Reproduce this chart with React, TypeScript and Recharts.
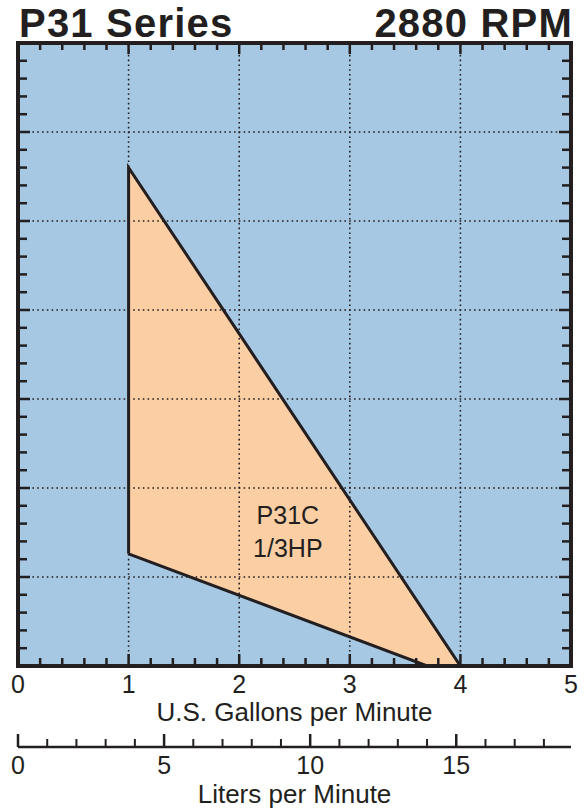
import React from 'react';
import {
  ComposedChart,
  XAxis,
  YAxis,
  Area,
  Line,
  ReferenceLine,
  ReferenceDot,
  CartesianGrid,
  Label,
} from 'recharts';

// ---------- data ----------
const gpmMinorTicks = [0, 0.2, 0.4, 0.6, 0.8, 1, 1.2, 1.4, 1.6, 1.8, 2, 2.2, 2.4, 2.6, 2.8, 3, 3.2, 3.4, 3.6, 3.8, 4, 4.2, 4.4, 4.6, 4.8, 5];
const gpmMajorTicks = [0, 1, 2, 3, 4, 5];
const gpmGridLines = [1, 2, 3, 4];
const headTicks = [0, 1, 2, 3, 4, 5, 6, 7, 8, 9, 10, 11, 12, 13, 14, 15, 16, 17, 18, 19, 20, 21, 22, 23, 24, 25, 26, 27, 28, 29, 30, 31, 32, 33, 34, 35];
const headMajorTicks = [0, 5, 10, 15, 20, 25, 30, 35];
const headGridLines = [5, 10, 15, 20, 25, 30];
const litersTicks = [0, 1, 2, 3, 4, 5, 6, 7, 8, 9, 10, 11, 12, 13, 14, 15, 16, 17, 18];
const litersMajorTicks = [0, 5, 10, 15];
const LITERS_PER_GALLON = 3.78541;
const GPM_MAX = 5;
const HEAD_MAX = 35;

// pump envelope (filled region): flow -> [low head, high head]
const envelopeFlow = [1, 3.7, 4];
const envelopeLow = [6.3, 0, 0];
const envelopeHigh = [28, 2.8, 0];

// outline of the envelope, in drawing order
const outlineFlow = [1, 1, 4, 3.7, 1];
const outlineHead = [6.3, 28, 0, 0, 6.3];

const modelName = 'P31C';
const modelPower = '1/3HP';
const modelLabelFlow = 2.44;
const modelLabelHead = 7.6;

const titleLeft = 'P31 Series';
const titleRight = '2880 RPM';
const xTitle = 'U.S. Gallons per Minute';
const litersTitle = 'Liters per Minute';

// ---------- derived tables ----------
const envelopeData = envelopeFlow.map((x, i) => ({
  x,
  lpm: x * LITERS_PER_GALLON,
  range: [envelopeLow[i], envelopeHigh[i]],
}));
const outlineData = outlineFlow.map((x, i) => ({ x, head: outlineHead[i] }));

// ---------- styles ----------
const INK = '#231f20';
const BLUE = '#a7c8e3';
const ORANGE = '#fbcea4';
const FONT = '"Liberation Sans", Arial, Helvetica, sans-serif';

const BottomTick = (props: any) => {
  const { x, y, payload } = props;
  const v = payload.value;
  const major = gpmMajorTicks.includes(v);
  return (
    <g>
      <line x1={x} x2={x} y1={y} y2={y - (major ? 12 : 8)} stroke={INK} strokeWidth={2.5} />
      {major && (
        <text x={x} y={y + 27} textAnchor="middle" fontSize={25} fill={INK} fontFamily={FONT}>
          {v}
        </text>
      )}
    </g>
  );
};

const TopTick = (props: any) => {
  const { x, y, payload } = props;
  const major = gpmMajorTicks.includes(payload.value);
  return <line x1={x} x2={x} y1={y} y2={y + (major ? 11 : 7)} stroke={INK} strokeWidth={2.5} />;
};

const LeftTick = (props: any) => {
  const { x, y, payload } = props;
  const major = headMajorTicks.includes(payload.value);
  return <line x1={x} x2={x + (major ? 12 : 9)} y1={y} y2={y} stroke={INK} strokeWidth={2.5} />;
};

const RightTick = (props: any) => {
  const { x, y, payload } = props;
  const major = headMajorTicks.includes(payload.value);
  return <line x1={x} x2={x - (major ? 12 : 9)} y1={y} y2={y} stroke={INK} strokeWidth={2.5} />;
};

const LitersTick = (props: any) => {
  const { x, y, payload } = props;
  const v = payload.value;
  const major = litersMajorTicks.includes(v);
  return (
    <g>
      <line x1={x} x2={x} y1={y} y2={y - (major ? 13 : 8)} stroke={INK} strokeWidth={major ? 2.5 : 2} />
      {major && (
        <text x={x} y={y + 27} textAnchor="middle" fontSize={25} fill={INK} fontFamily={FONT}>
          {v}
        </text>
      )}
    </g>
  );
};

const ModelLabel = (props: any) => {
  const vb = props.viewBox || {};
  const cx = (vb.x ?? 0) + (vb.width ?? 0) / 2;
  const cy = (vb.y ?? 0) + (vb.height ?? 0) / 2;
  return (
    <g>
      <text x={cx} y={cy - 7} textAnchor="middle" fontSize={25} fill={INK} fontFamily={FONT}>
        {modelName}
      </text>
      <text x={cx} y={cy + 26} textAnchor="middle" fontSize={25} fill={INK} fontFamily={FONT}>
        {modelPower}
      </text>
    </g>
  );
};

const borderLine = { stroke: INK, strokeWidth: 4, strokeLinecap: 'square' as const };

export default function App() {
  return (
    <div style={{ position: 'absolute', left: 0, top: 0, width: 586, height: 808, background: '#fff', fontFamily: FONT }}>
      <ComposedChart
        width={586}
        height={808}
        data={envelopeData}
        margin={{ top: 43, right: 15, bottom: 0, left: 18 }}
      >
        <CartesianGrid fill={BLUE} horizontal={false} vertical={false} xAxisId="g" yAxisId="l" />
        <XAxis
          xAxisId="g"
          dataKey="x"
          type="number"
          orientation="bottom"
          domain={[0, GPM_MAX]}
          allowDataOverflow
          ticks={gpmMinorTicks}
          interval={0}
          tickSize={0}
          tickMargin={0}
          tickLine={false}
          axisLine={borderLine}
          tick={<BottomTick />}
          height={81}
        >
          <Label
            value={xTitle}
            position="insideTop"
            offset={37}
            style={{ fontSize: 26, fill: INK, fontFamily: FONT }}
          />
        </XAxis>
        <XAxis
          xAxisId="lpm"
          dataKey="lpm"
          type="number"
          orientation="bottom"
          domain={[0, GPM_MAX * LITERS_PER_GALLON]}
          allowDataOverflow
          ticks={litersTicks}
          interval={0}
          tickSize={0}
          tickMargin={0}
          tickLine={false}
          axisLine={{ stroke: INK, strokeWidth: 2.5 }}
          tick={<LitersTick />}
          height={61}
        >
          <Label
            value={litersTitle}
            position="insideTop"
            offset={38}
            style={{ fontSize: 26, fill: INK, fontFamily: FONT }}
          />
        </XAxis>
        <XAxis
          xAxisId="top"
          dataKey="x"
          type="number"
          orientation="top"
          mirror
          domain={[0, GPM_MAX]}
          allowDataOverflow
          ticks={gpmMinorTicks}
          interval={0}
          tickSize={0}
          tickMargin={0}
          tickLine={false}
          axisLine={borderLine}
          tick={<TopTick />}
          height={1}
        />
        <YAxis
          yAxisId="l"
          type="number"
          orientation="left"
          mirror
          domain={[0, HEAD_MAX]}
          allowDataOverflow
          ticks={headTicks}
          interval={0}
          tickSize={0}
          tickMargin={0}
          tickLine={false}
          axisLine={borderLine}
          tick={<LeftTick />}
          width={1}
        />
        <YAxis
          yAxisId="r"
          type="number"
          orientation="right"
          mirror
          domain={[0, HEAD_MAX]}
          allowDataOverflow
          ticks={headTicks}
          interval={0}
          tickSize={0}
          tickMargin={0}
          tickLine={false}
          axisLine={borderLine}
          tick={<RightTick />}
          width={1}
        />
        <Area
          xAxisId="g"
          yAxisId="l"
          type="linear"
          dataKey="range"
          fill={ORANGE}
          fillOpacity={1}
          stroke="none"
          isAnimationActive={false}
          activeDot={false}
        />
        {gpmGridLines.map((v) => (
          <ReferenceLine
            key={'gx' + v}
            xAxisId="g"
            yAxisId="l"
            x={v}
            stroke={INK}
            strokeWidth={1.6}
            strokeDasharray="1.6 3.2"
          />
        ))}
        {headGridLines.map((v) => (
          <ReferenceLine
            key={'gy' + v}
            xAxisId="g"
            yAxisId="l"
            y={v}
            stroke={INK}
            strokeWidth={1.6}
            strokeDasharray="1.6 3.2"
          />
        ))}
        <Line
          xAxisId="g"
          yAxisId="l"
          data={outlineData}
          dataKey="head"
          type="linear"
          stroke={INK}
          strokeWidth={3}
          strokeLinejoin="miter"
          dot={false}
          activeDot={false}
          isAnimationActive={false}
        />
        <ReferenceDot
          xAxisId="g"
          yAxisId="l"
          x={modelLabelFlow}
          y={modelLabelHead}
          r={0}
          fill="none"
          stroke="none"
          label={<ModelLabel />}
        />
      </ComposedChart>
      <div
        style={{
          position: 'absolute',
          left: 19,
          top: 3,
          fontSize: 40,
          lineHeight: '40px',
          fontWeight: 'bold',
          letterSpacing: 1.2,
          color: INK,
          whiteSpace: 'nowrap',
        }}
      >
        {titleLeft}
      </div>
      <div
        style={{
          position: 'absolute',
          right: 13,
          top: 3,
          fontSize: 40,
          lineHeight: '40px',
          fontWeight: 'bold',
          letterSpacing: 1.2,
          color: INK,
          whiteSpace: 'nowrap',
        }}
      >
        {titleRight}
      </div>
    </div>
  );
}
